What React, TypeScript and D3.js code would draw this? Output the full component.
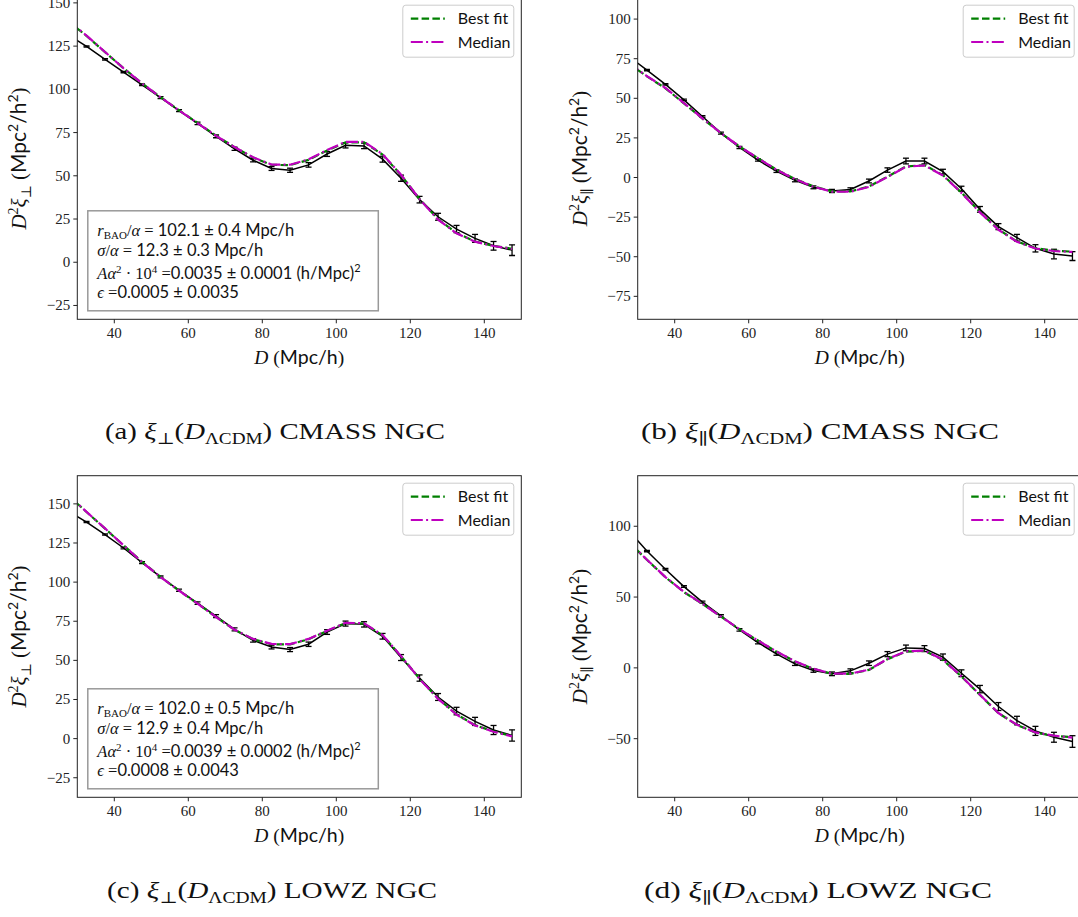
import React from "react";
import * as d3 from "d3";

// ---------- data ----------
const D_BINS = [27.5, 32.5, 37.5, 42.5, 47.5, 52.5, 57.5, 62.5, 67.5, 72.5, 77.5, 82.5, 87.5, 92.5, 97.5, 102.5, 107.5, 112.5, 117.5, 122.5, 127.5, 132.5, 137.5, 142.5, 147.5];
const X_DOMAIN = [30, 150];
const X_TICKS = [40, 60, 80, 100, 120, 140];

// (a) xi_perp CMASS NGC
const A_DATA = [131.5, 124.8, 117.3, 110.0, 102.6, 95.2, 87.7, 80.3, 72.8, 65.6, 59.0, 54.2, 53.2, 56.3, 62.6, 67.6, 67.3, 59.6, 48.6, 36.2, 26.3, 19.2, 13.8, 9.5, 7.0];
const A_ERR = [0.3, 0.3, 0.4, 0.4, 0.5, 0.6, 0.6, 0.7, 0.8, 0.9, 1.0, 1.1, 1.2, 1.3, 1.4, 1.5, 1.6, 1.7, 1.8, 1.9, 2.0, 2.1, 2.3, 2.5, 3.1];
const A_BEST = [139.5, 130.9, 121.5, 112.2, 103.5, 95.5, 87.9, 80.6, 73.2, 66.6, 60.6, 56.3, 56.2, 59.2, 64.6, 69.3, 69.4, 62.2, 50.4, 36.6, 24.8, 16.9, 12.0, 9.5, 7.8];
const A_MEDIAN = [139.8, 131.1, 121.6, 112.2, 103.4, 95.4, 87.8, 80.5, 73.1, 66.6, 60.7, 56.5, 56.4, 59.5, 64.9, 69.6, 69.7, 62.5, 50.6, 36.5, 24.6, 16.7, 11.9, 9.4, 7.7];
const A_YDOMAIN = [-33, 153];
const A_YTICKS = [-25, 0, 25, 50, 75, 100, 125, 150];
const A_FIT = ["102.1 ± 0.4 Mpc/h", "12.3 ± 0.3 Mpc/h", "0.0035 ± 0.0001 (h/Mpc)", "0.0005 ± 0.0035"];

// (b) xi_par CMASS NGC
const B_DATA = [76.5, 67.8, 58.8, 49.0, 38.5, 28.0, 19.0, 11.0, 4.0, -1.8, -6.2, -8.5, -7.6, -2.2, 4.7, 10.4, 10.4, 3.7, -7.1, -20.1, -31.0, -38.0, -44.7, -48.3, -49.6];
const B_ERR = [0.4, 0.4, 0.4, 0.5, 0.5, 0.6, 0.7, 0.7, 0.8, 0.9, 0.9, 1.0, 1.1, 1.2, 1.4, 1.8, 1.8, 1.5, 1.6, 1.8, 1.9, 2.1, 2.3, 3.0, 2.8];
const B_BEST = [72.0, 63.8, 56.3, 46.8, 37.2, 28.0, 19.6, 12.2, 5.0, -0.9, -5.6, -8.7, -8.8, -5.7, 0.5, 7.0, 7.8, 1.5, -9.5, -21.8, -32.8, -40.4, -44.6, -46.2, -46.8];
const B_MEDIAN = [72.2, 64.0, 56.5, 47.0, 37.3, 28.0, 19.6, 12.2, 4.9, -1.0, -5.8, -8.9, -9.0, -5.9, 0.3, 6.8, 7.6, 1.3, -9.7, -22.0, -33.0, -40.6, -44.8, -46.4, -47.0];
const B_YDOMAIN = [-89.5, 113.5];
const B_YTICKS = [-75, -50, -25, 0, 25, 50, 75, 100];

// (c) xi_perp LOWZ NGC
const C_DATA = [145.5, 138.4, 130.4, 121.8, 112.5, 103.3, 94.8, 86.6, 78.3, 69.8, 62.8, 58.5, 56.9, 60.3, 68.1, 73.5, 73.0, 65.4, 51.8, 38.7, 26.6, 17.6, 11.0, 5.5, 2.0];
const C_ERR = [0.4, 0.4, 0.4, 0.5, 0.6, 0.6, 0.7, 0.8, 0.9, 1.0, 1.1, 1.2, 1.3, 1.4, 1.5, 1.6, 1.7, 1.8, 1.9, 2.0, 2.2, 2.4, 2.6, 2.9, 3.6];
const C_BEST = [155.5, 144.8, 134.2, 123.5, 112.9, 103.3, 94.6, 86.3, 77.7, 69.5, 63.5, 60.3, 60.2, 63.5, 68.8, 73.8, 73.5, 66.0, 52.6, 38.3, 25.6, 15.5, 8.6, 4.6, 1.6];
const C_MEDIAN = [155.6, 144.9, 134.3, 123.5, 112.8, 103.2, 94.5, 86.2, 77.7, 69.6, 63.7, 60.5, 60.4, 63.7, 69.0, 74.0, 73.7, 66.2, 52.7, 38.2, 25.4, 15.3, 8.4, 4.4, 1.4];
const C_YDOMAIN = [-37.5, 168];
const C_YTICKS = [-25, 0, 25, 50, 75, 100, 125, 150];
const C_FIT = ["102.0 ± 0.5 Mpc/h", "12.9 ± 0.4 Mpc/h", "0.0039 ± 0.0002 (h/Mpc)", "0.0008 ± 0.0043"];

// (d) xi_par LOWZ NGC
const D_DATA = [97.0, 82.5, 69.7, 57.4, 46.4, 36.7, 26.8, 17.9, 9.9, 2.8, -1.9, -4.2, -2.1, 3.3, 9.7, 14.1, 13.6, 7.6, -3.8, -15.0, -27.3, -37.2, -44.5, -49.0, -52.0];
const D_ERR = [0.5, 0.5, 0.6, 0.6, 0.7, 0.8, 0.9, 0.9, 1.0, 1.1, 1.2, 1.3, 1.4, 1.6, 1.8, 2.0, 2.1, 2.2, 2.4, 2.6, 2.8, 3.0, 3.2, 3.5, 4.1];
const D_BEST = [89.0, 76.3, 64.0, 53.5, 45.2, 36.2, 27.3, 19.3, 11.5, 4.5, -0.7, -4.2, -4.2, -1.4, 6.1, 11.5, 12.0, 5.6, -6.1, -19.1, -32.0, -40.3, -45.7, -48.0, -49.0];
const D_MEDIAN = [89.2, 76.4, 64.1, 53.6, 45.2, 36.2, 27.3, 19.3, 11.6, 4.6, -0.6, -4.1, -4.1, -1.3, 6.2, 11.7, 12.2, 5.8, -6.0, -19.0, -31.9, -40.2, -45.6, -47.9, -49.2];
const D_YDOMAIN = [-91.4, 135.7];
const D_YTICKS = [-50, 0, 50, 100];

const LEGEND_LABELS = ["Best fit", "Median"];
const SAMPLES = ["CMASS NGC", "CMASS NGC", "LOWZ NGC", "LOWZ NGC"];
const LETTERS = ["a", "b", "c", "d"];

// ---------- styles ----------
const SERIF = "'Liberation Serif', 'DejaVu Serif', serif";
const SANS = "Lato, 'DejaVu Sans', sans-serif";
const GREEN = "#008000";
const MAGENTA = "#bf00bf";

const fmtTick = (v: number) => (v < 0 ? "\u2212" + Math.abs(v) : String(v));

type PanelProps = {
  x0: number; x1: number; y0: number; y1: number;
  yDomain: number[]; yTicks: number[];
  data: number[]; err: number[]; best: number[]; median: number[];
  kind: "perp" | "par"; fit?: string[]; id: string;
  labelX: number; xLabelY: number;
};

function Panel(p: PanelProps) {
  const x = d3.scaleLinear().domain(X_DOMAIN).range([p.x0, p.x1]);
  const y = d3.scaleLinear().domain(p.yDomain).range([p.y1, p.y0]);
  const line = d3.line<number>().x((_, i) => x(D_BINS[i])).y((v) => y(v));
  const clipId = "clip-" + p.id;
  const sub = p.kind === "perp" ? "\u22A5" : "\u2225";
  const legR = p.x1 - 7.5;
  const legT = p.y0 + 7.5;
  const legW = 111;
  const legH = 52;
  const legL = legR - legW;
  const midY = (p.y0 + p.y1) / 2;
  const midX = (p.x0 + p.x1) / 2;
  return (
    <g>
      <defs>
        <clipPath id={clipId}>
          <rect x={p.x0} y={p.y0} width={p.x1 - p.x0} height={p.y1 - p.y0} />
        </clipPath>
      </defs>
      <g clipPath={`url(#${clipId})`}>
        <path d={line(p.data) || ""} fill="none" stroke="#000" strokeWidth={1.5} />
        {p.data.map((v, i) => {
          const cx = x(D_BINS[i]);
          if (D_BINS[i] < X_DOMAIN[0]) return null;
          const ya = y(v - p.err[i]);
          const yb = y(v + p.err[i]);
          return (
            <g key={i} stroke="#000" strokeWidth={1.3}>
              <line x1={cx} x2={cx} y1={ya} y2={yb} />
              <line x1={cx - 3} x2={cx + 3} y1={ya} y2={ya} />
              <line x1={cx - 3} x2={cx + 3} y1={yb} y2={yb} />
            </g>
          );
        })}
        <path d={line(p.best) || ""} fill="none" stroke={GREEN} strokeWidth={2.2} strokeDasharray="7.5,3.3" />
        <path d={line(p.median) || ""} fill="none" stroke={MAGENTA} strokeWidth={2.2} strokeDasharray="12,3.3,2,3.3" />
      </g>
      {/* spines */}
      <rect x={p.x0} y={p.y0} width={p.x1 - p.x0} height={p.y1 - p.y0} fill="none" stroke="#222" strokeWidth={1} />
      {/* x ticks */}
      {X_TICKS.map((t) => (
        <g key={"xt" + t}>
          <line x1={x(t)} x2={x(t)} y1={p.y1} y2={p.y1 + 4} stroke="#222" strokeWidth={1} />
          <text x={x(t)} y={p.y1 + 19} textAnchor="middle" fontFamily={SERIF} fontSize={15} fill="#222">{fmtTick(t)}</text>
        </g>
      ))}
      {/* y ticks */}
      {p.yTicks.map((t) => (
        <g key={"yt" + t}>
          <line x1={p.x0 - 4} x2={p.x0} y1={y(t)} y2={y(t)} stroke="#222" strokeWidth={1} />
          <text x={p.x0 - 7} y={y(t) + 5} textAnchor="end" fontFamily={SERIF} fontSize={15} fill="#222">{fmtTick(t)}</text>
        </g>
      ))}
      {/* x label */}
      <text x={midX} y={p.xLabelY} textAnchor="middle" fontSize={19.5} fill="#111">
        <tspan fontFamily={SERIF} fontStyle="italic">D</tspan>
        <tspan fontFamily={SERIF}> (</tspan>
        <tspan fontFamily={SANS}>Mpc/h</tspan>
        <tspan fontFamily={SERIF}>)</tspan>
      </text>
      {/* y label */}
      <text transform={`translate(${p.labelX},${midY}) rotate(-90)`} textAnchor="middle" fontSize={21} fill="#111">
        <tspan fontFamily={SERIF} fontStyle="italic">D</tspan>
        <tspan fontFamily={SERIF} fontSize={14} dy={-8}>2</tspan>
        <tspan fontFamily={SERIF} fontStyle="italic" dy={8}>ξ</tspan>
        <tspan fontFamily={SERIF} fontSize={14} dy={5}>{sub}</tspan>
        <tspan fontFamily={SERIF} dy={-5}> (</tspan>
        <tspan fontFamily={SANS}>Mpc</tspan>
        <tspan fontFamily={SANS} fontSize={14} dy={-8}>2</tspan>
        <tspan fontFamily={SANS} dy={8}>/h</tspan>
        <tspan fontFamily={SANS} fontSize={14} dy={-8}>2</tspan>
        <tspan fontFamily={SERIF} dy={8}>)</tspan>
      </text>
      {/* legend */}
      <rect x={legL} y={legT} width={legW} height={legH} rx={3} fill="#fff" fillOpacity={0.8} stroke="#cccccc" strokeWidth={1} />
      {LEGEND_LABELS.map((lab, i) => {
        const ly = legT + 13.5 + i * 23.3;
        return (
          <g key={lab}>
            <line x1={legL + 8} x2={legL + 42} y1={ly} y2={ly} stroke={i === 0 ? GREEN : MAGENTA} strokeWidth={2.2}
              strokeDasharray={i === 0 ? "7.5,3.3" : "12,3.3,2,3.3"} />
            <text x={legL + 55} y={ly + 5.5} fontFamily={SANS} fontSize={16} fill="#111">{lab}</text>
          </g>
        );
      })}
      {/* fit text box */}
      {p.fit && (
        <g>
          <rect x={p.x0 + 10.5} y={p.y1 - 108.5} width={290.5} height={100} fill="#fff" stroke="#999" strokeWidth={1.5} />
          <text x={p.x0 + 20} y={p.y1 - 83} fontSize={16.5} fill="#111">
            <tspan fontFamily={SERIF} fontStyle="italic">r</tspan>
            <tspan fontFamily={SERIF} fontSize={11} dy={3}>BAO</tspan>
            <tspan fontFamily={SERIF} dy={-3}>/</tspan>
            <tspan fontFamily={SERIF} fontStyle="italic">α</tspan>
            <tspan fontFamily={SERIF}> = </tspan>
            <tspan fontFamily={SANS}>{p.fit[0]}</tspan>
          </text>
          <text x={p.x0 + 20} y={p.y1 - 63} fontSize={16.5} fill="#111">
            <tspan fontFamily={SERIF} fontStyle="italic">σ</tspan>
            <tspan fontFamily={SERIF}>/</tspan>
            <tspan fontFamily={SERIF} fontStyle="italic">α</tspan>
            <tspan fontFamily={SERIF}> = </tspan>
            <tspan fontFamily={SANS}>{p.fit[1]}</tspan>
          </text>
          <text x={p.x0 + 20} y={p.y1 - 40} fontSize={16.5} fill="#111">
            <tspan fontFamily={SERIF} fontStyle="italic">Aα</tspan>
            <tspan fontFamily={SERIF} fontSize={11} dy={-6}>2</tspan>
            <tspan fontFamily={SERIF} dy={6}> · 10</tspan>
            <tspan fontFamily={SERIF} fontSize={11} dy={-6}>4</tspan>
            <tspan fontFamily={SERIF} dy={6}> =</tspan>
            <tspan fontFamily={SANS}>{p.fit[2]}</tspan>
            <tspan fontFamily={SANS} fontSize={11} dy={-7}>2</tspan>
          </text>
          <text x={p.x0 + 20} y={p.y1 - 21} fontSize={16.5} fill="#111">
            <tspan fontFamily={SERIF} fontStyle="italic">ϵ</tspan>
            <tspan fontFamily={SERIF}> =</tspan>
            <tspan fontFamily={SANS}>{p.fit[3]}</tspan>
          </text>
        </g>
      )}
    </g>
  );
}

function Caption({ cx, y, letter, kind, sample, width }: { cx: number; y: number; letter: string; kind: "perp" | "par"; sample: string; width: number }) {
  const sub = kind === "perp" ? "\u22A5" : "\u2225";
  return (
    <text x={cx - width / 2} y={y} fontFamily={SERIF} fontSize={24} fill="#111" textLength={width} lengthAdjust="spacingAndGlyphs">
      <tspan>({letter}) </tspan>
      <tspan fontStyle="italic">ξ</tspan>
      <tspan fontSize={16} dy={5}>{sub}</tspan>
      <tspan dy={-5}>(</tspan>
      <tspan fontStyle="italic">D</tspan>
      <tspan fontSize={16} dy={5}>ΛCDM</tspan>
      <tspan dy={-5}>) {sample}</tspan>
    </text>
  );
}

export default function App() {
  const LX0 = 77.3, LX1 = 521.3, RX0 = 637.7, RX1 = 1081.7;
  const TY0 = -2.3, TY1 = 319.3, BY0 = 475.7, BY1 = 797.3;
  return (
    <svg width={1078} height={917} style={{ position: "absolute", left: 0, top: 0, background: "#fff" }}>
      <rect x={0} y={0} width={1078} height={917} fill="#fff" />
      <Panel id="a" x0={LX0} x1={LX1} y0={TY0} y1={TY1} yDomain={A_YDOMAIN} yTicks={A_YTICKS}
        data={A_DATA} err={A_ERR} best={A_BEST} median={A_MEDIAN} kind="perp" fit={A_FIT} labelX={26} xLabelY={364} />
      <Panel id="b" x0={RX0} x1={RX1} y0={TY0} y1={TY1} yDomain={B_YDOMAIN} yTicks={B_YTICKS}
        data={B_DATA} err={B_ERR} best={B_BEST} median={B_MEDIAN} kind="par" labelX={587} xLabelY={364} />
      <Panel id="c" x0={LX0} x1={LX1} y0={BY0} y1={BY1} yDomain={C_YDOMAIN} yTicks={C_YTICKS}
        data={C_DATA} err={C_ERR} best={C_BEST} median={C_MEDIAN} kind="perp" fit={C_FIT} labelX={26} xLabelY={842} />
      <Panel id="d" x0={RX0} x1={RX1} y0={BY0} y1={BY1} yDomain={D_YDOMAIN} yTicks={D_YTICKS}
        data={D_DATA} err={D_ERR} best={D_BEST} median={D_MEDIAN} kind="par" labelX={587} xLabelY={842} />
      <Caption cx={275} y={439} width={340} letter={LETTERS[0]} kind="perp" sample={SAMPLES[0]} />
      <Caption cx={820} y={439} width={358} letter={LETTERS[1]} kind="par" sample={SAMPLES[1]} />
      <Caption cx={272} y={898} width={330} letter={LETTERS[2]} kind="perp" sample={SAMPLES[2]} />
      <Caption cx={818} y={898} width={348} letter={LETTERS[3]} kind="par" sample={SAMPLES[3]} />
    </svg>
  );
}
